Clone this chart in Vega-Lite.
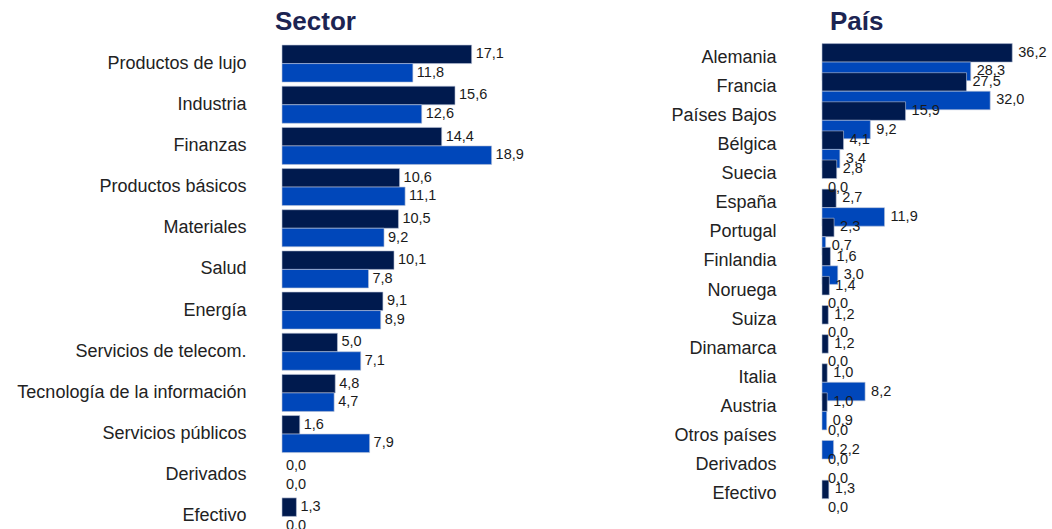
{
  "$schema": "https://vega.github.io/schema/vega-lite/v6.json",
  "background": "white",
  "padding": {"left": 16, "top": 9, "right": 0, "bottom": 0},
  "config": {
    "view": {"stroke": null},
    "font": "Liberation Sans",
    "title": {"font": "Liberation Sans", "fontSize": 26, "fontWeight": "bold", "color": "#1c2452", "anchor": "start", "frame": "group", "offset": 8},
    "axisY": {"domain": false, "ticks": false, "title": null, "labelFont": "Liberation Sans", "labelFontSize": 18, "labelColor": "#222222", "labelLimit": 400}
  },
  "datasets": {
    "sector": [
      {"cat": "Productos de lujo", "serie": "Fondo", "val": 17.1, "label": "17,1"},
      {"cat": "Productos de lujo", "serie": "Índice", "val": 11.8, "label": "11,8"},
      {"cat": "Industria", "serie": "Fondo", "val": 15.6, "label": "15,6"},
      {"cat": "Industria", "serie": "Índice", "val": 12.6, "label": "12,6"},
      {"cat": "Finanzas", "serie": "Fondo", "val": 14.4, "label": "14,4"},
      {"cat": "Finanzas", "serie": "Índice", "val": 18.9, "label": "18,9"},
      {"cat": "Productos básicos", "serie": "Fondo", "val": 10.6, "label": "10,6"},
      {"cat": "Productos básicos", "serie": "Índice", "val": 11.1, "label": "11,1"},
      {"cat": "Materiales", "serie": "Fondo", "val": 10.5, "label": "10,5"},
      {"cat": "Materiales", "serie": "Índice", "val": 9.2, "label": "9,2"},
      {"cat": "Salud", "serie": "Fondo", "val": 10.1, "label": "10,1"},
      {"cat": "Salud", "serie": "Índice", "val": 7.8, "label": "7,8"},
      {"cat": "Energía", "serie": "Fondo", "val": 9.1, "label": "9,1"},
      {"cat": "Energía", "serie": "Índice", "val": 8.9, "label": "8,9"},
      {"cat": "Servicios de telecom.", "serie": "Fondo", "val": 5.0, "label": "5,0"},
      {"cat": "Servicios de telecom.", "serie": "Índice", "val": 7.1, "label": "7,1"},
      {"cat": "Tecnología de la información", "serie": "Fondo", "val": 4.8, "label": "4,8"},
      {"cat": "Tecnología de la información", "serie": "Índice", "val": 4.7, "label": "4,7"},
      {"cat": "Servicios públicos", "serie": "Fondo", "val": 1.6, "label": "1,6"},
      {"cat": "Servicios públicos", "serie": "Índice", "val": 7.9, "label": "7,9"},
      {"cat": "Derivados", "serie": "Fondo", "val": 0.0, "label": "0,0"},
      {"cat": "Derivados", "serie": "Índice", "val": 0.0, "label": "0,0"},
      {"cat": "Efectivo", "serie": "Fondo", "val": 1.3, "label": "1,3"},
      {"cat": "Efectivo", "serie": "Índice", "val": 0.0, "label": "0,0"}
    ],
    "pais": [
      {"cat": "Alemania", "serie": "Fondo", "val": 36.2, "label": "36,2"},
      {"cat": "Alemania", "serie": "Índice", "val": 28.3, "label": "28,3"},
      {"cat": "Francia", "serie": "Fondo", "val": 27.5, "label": "27,5"},
      {"cat": "Francia", "serie": "Índice", "val": 32.0, "label": "32,0"},
      {"cat": "Países Bajos", "serie": "Fondo", "val": 15.9, "label": "15,9"},
      {"cat": "Países Bajos", "serie": "Índice", "val": 9.2, "label": "9,2"},
      {"cat": "Bélgica", "serie": "Fondo", "val": 4.1, "label": "4,1"},
      {"cat": "Bélgica", "serie": "Índice", "val": 3.4, "label": "3,4"},
      {"cat": "Suecia", "serie": "Fondo", "val": 2.8, "label": "2,8"},
      {"cat": "Suecia", "serie": "Índice", "val": 0.0, "label": "0,0"},
      {"cat": "España", "serie": "Fondo", "val": 2.7, "label": "2,7"},
      {"cat": "España", "serie": "Índice", "val": 11.9, "label": "11,9"},
      {"cat": "Portugal", "serie": "Fondo", "val": 2.3, "label": "2,3"},
      {"cat": "Portugal", "serie": "Índice", "val": 0.7, "label": "0,7"},
      {"cat": "Finlandia", "serie": "Fondo", "val": 1.6, "label": "1,6"},
      {"cat": "Finlandia", "serie": "Índice", "val": 3.0, "label": "3,0"},
      {"cat": "Noruega", "serie": "Fondo", "val": 1.4, "label": "1,4"},
      {"cat": "Noruega", "serie": "Índice", "val": 0.0, "label": "0,0"},
      {"cat": "Suiza", "serie": "Fondo", "val": 1.2, "label": "1,2"},
      {"cat": "Suiza", "serie": "Índice", "val": 0.0, "label": "0,0"},
      {"cat": "Dinamarca", "serie": "Fondo", "val": 1.2, "label": "1,2"},
      {"cat": "Dinamarca", "serie": "Índice", "val": 0.0, "label": "0,0"},
      {"cat": "Italia", "serie": "Fondo", "val": 1.0, "label": "1,0"},
      {"cat": "Italia", "serie": "Índice", "val": 8.2, "label": "8,2"},
      {"cat": "Austria", "serie": "Fondo", "val": 1.0, "label": "1,0"},
      {"cat": "Austria", "serie": "Índice", "val": 0.9, "label": "0,9"},
      {"cat": "Otros países", "serie": "Fondo", "val": 0.0, "label": "0,0"},
      {"cat": "Otros países", "serie": "Índice", "val": 2.2, "label": "2,2"},
      {"cat": "Derivados", "serie": "Fondo", "val": 0.0, "label": "0,0"},
      {"cat": "Derivados", "serie": "Índice", "val": 0.0, "label": "0,0"},
      {"cat": "Efectivo", "serie": "Fondo", "val": 1.3, "label": "1,3"},
      {"cat": "Efectivo", "serie": "Índice", "val": 0.0, "label": "0,0"}
    ]
  },
  "spacing": 144,
  "hconcat": [
    {
      "title": {"text": "Sector", "dx": -7},
      "data": {"name": "sector"},
      "width": 244,
      "height": 494,
      "encoding": {
        "y": {"field": "cat", "type": "nominal", "sort": null, "scale": {"paddingInner": 0.1, "paddingOuter": 0.05}, "axis": {"labelPadding": 36}},
        "yOffset": {"field": "serie", "type": "nominal", "sort": ["Fondo", "Índice"], "scale": {"paddingInner": 0, "paddingOuter": 0}},
        "x": {"field": "val", "type": "quantitative", "scale": {"domain": [0, 22], "nice": false}, "axis": null}
      },
      "layer": [
        {"mark": {"type": "bar", "stroke": "#b8c2d6", "strokeWidth": 0.6},
         "encoding": {
           "color": {"field": "serie", "type": "nominal", "scale": {"domain": ["Fondo", "Índice"], "range": ["#001a4e", "#0047ba"]}, "legend": null},
           "strokeOpacity": {"condition": {"test": "datum.val == 0", "value": 0}, "value": 1}
         }},
        {"mark": {"type": "text", "align": "left", "baseline": "middle", "dx": 4, "fontSize": 14.5, "color": "#1a1a1a"},
         "encoding": {"text": {"field": "label"}}}
      ]
    },
    {
      "title": {"text": "País", "dx": 8},
      "data": {"name": "pais"},
      "width": 226,
      "height": 466,
      "encoding": {
        "y": {"field": "cat", "type": "nominal", "sort": null, "scale": {"paddingInner": 0.03, "paddingOuter": 0.02}, "axis": {"labelPadding": 46}},
        "yOffset": {"field": "serie", "type": "nominal", "sort": ["Fondo", "Índice"], "scale": {"paddingInner": 0, "paddingOuter": 0}},
        "x": {"field": "val", "type": "quantitative", "scale": {"domain": [0, 43], "nice": false}, "axis": null}
      },
      "layer": [
        {"mark": {"type": "bar", "stroke": "#b8c2d6", "strokeWidth": 0.6},
         "encoding": {
           "color": {"field": "serie", "type": "nominal", "scale": {"domain": ["Fondo", "Índice"], "range": ["#001a4e", "#0047ba"]}, "legend": null},
           "strokeOpacity": {"condition": {"test": "datum.val == 0", "value": 0}, "value": 1}
         }},
        {"mark": {"type": "text", "align": "left", "baseline": "middle", "dx": 6, "fontSize": 14.5, "color": "#1a1a1a"},
         "encoding": {"text": {"field": "label"}}}
      ]
    }
  ]
}
